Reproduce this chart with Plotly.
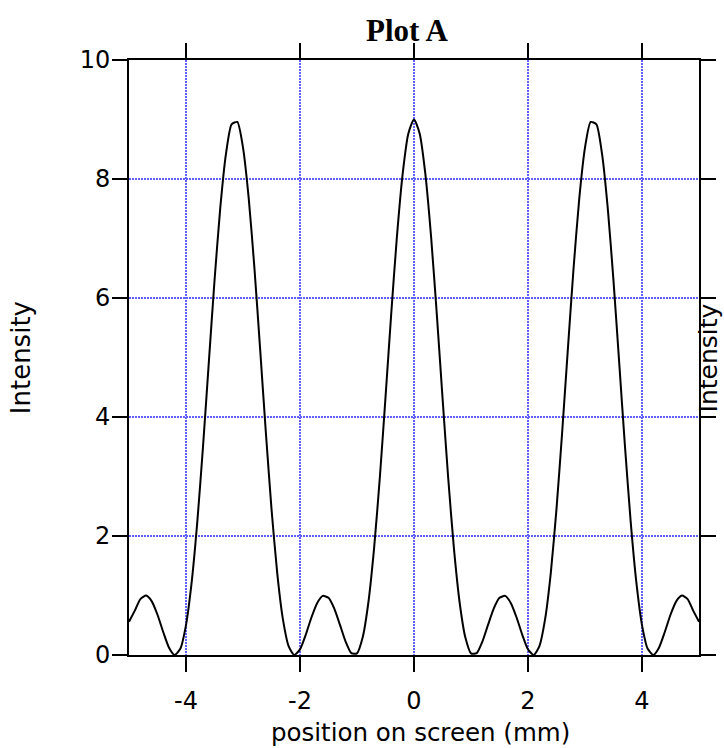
import plotly.graph_objects as go

# Position on screen (mm), read at 0.1 mm steps
x_mm = [round(-5 + 0.1 * i, 1) for i in range(101)]

# Intensity, x = -5.0 ... 5.0
intensity = [
    0.56, 0.7411, 0.9397, 0.9988, 0.9019, 0.6761, 0.3871, 0.1278, 0.0015, 0.1035,
    0.5027, 1.2275, 2.2576, 3.5235, 4.9138, 6.2891, 7.5010, 8.4127, 8.9184, 8.9586,
    8.5284, 7.6787, 6.5083, 5.1501, 3.7521, 2.4565, 1.3806, 0.6017, 0.1485, 0.0004,
    0.0944, 0.3387, 0.6297, 0.8716, 0.9932, 0.9604, 0.7822, 0.5095, 0.2254, 0.0313,
    0.0281, 0.2977, 0.8866, 1.7954, 2.9746, 4.3289, 5.7284, 7.0261, 8.0777, 8.7624,
    9.0,
    8.7624, 8.0777, 7.0261, 5.7284, 4.3289, 2.9746, 1.7954, 0.8866, 0.2977, 0.0281,
    0.0313, 0.2254, 0.5095, 0.7822, 0.9604, 0.9932, 0.8716, 0.6297, 0.3387, 0.0944,
    0.0004, 0.1485, 0.6017, 1.3806, 2.4565, 3.7521, 5.1501, 6.5083, 7.6787, 8.5284,
    8.9586, 8.9184, 8.4127, 7.5010, 6.2891, 4.9138, 3.5235, 2.2576, 1.2275, 0.5027,
    0.1035, 0.0015, 0.1278, 0.3871, 0.6761, 0.9019, 0.9988, 0.9397, 0.7411, 0.56,
]

x_ticks = [-4, -2, 0, 2, 4]
y_ticks = [0, 2, 4, 6, 8, 10]

title_text = "Plot A"
x_title = "position on screen (mm)"
y_title = "Intensity"

fig = go.Figure()
fig.add_trace(go.Scatter(
    x=x_mm, y=intensity, mode="lines",
    line=dict(color="black", width=2, shape="spline", smoothing=0.6),
    hoverinfo="skip", showlegend=False,
))

grid_color = "#6060ff"
tick_font = dict(family="DejaVu Sans", size=24, color="black")

fig.update_layout(
    width=724, height=748,
    margin=dict(l=129, r=25, t=60, b=93, autoexpand=False),
    paper_bgcolor="white", plot_bgcolor="white",
    xaxis=dict(
        range=[-5, 5], tickvals=x_ticks, ticktext=[str(v) for v in x_ticks],
        ticks="outside", ticklen=15, tickwidth=2, tickcolor="black",
        showline=True, linecolor="black", linewidth=2, mirror="ticks",
        showgrid=True, gridcolor=grid_color, griddash="2px,1px", gridwidth=2,
        zeroline=False, tickfont=tick_font, ticklabelstandoff=8,
    ),
    yaxis=dict(
        range=[0, 10], tickvals=y_ticks, ticktext=[str(v) for v in y_ticks],
        ticks="outside", ticklen=15, tickwidth=2, tickcolor="black",
        showline=True, linecolor="black", linewidth=2, mirror="ticks",
        showgrid=True, gridcolor=grid_color, griddash="2px,1px", gridwidth=2,
        zeroline=False, tickfont=tick_font, ticklabelstandoff=-3,
    ),
    annotations=[
        dict(text="<b>" + title_text + "</b>", xref="paper", yref="paper",
             x=0.488, y=1.0504, xanchor="center", yanchor="middle", showarrow=False,
             font=dict(family="Liberation Serif", size=31, color="black")),
        dict(text=x_title, xref="paper", yref="paper",
             x=0.511, y=-0.131, xanchor="center", yanchor="middle", showarrow=False,
             font=dict(family="DejaVu Sans", size=24.5, color="black")),
        dict(text=y_title, xref="paper", yref="paper", textangle=-90,
             x=-0.190, y=0.5, xanchor="center", yanchor="middle", showarrow=False,
             font=dict(family="DejaVu Sans", size=26, color="black")),
        dict(text=y_title, xref="paper", yref="paper", textangle=-90,
             x=1.0175, y=0.5, xanchor="center", yanchor="middle", showarrow=False,
             font=dict(family="DejaVu Sans", size=25, color="black")),
    ],
)

fig.write_html(
    "out.html",
    config={"displayModeBar": False},
    post_script="document.body.style.margin='0';document.body.style.padding='0';",
)
